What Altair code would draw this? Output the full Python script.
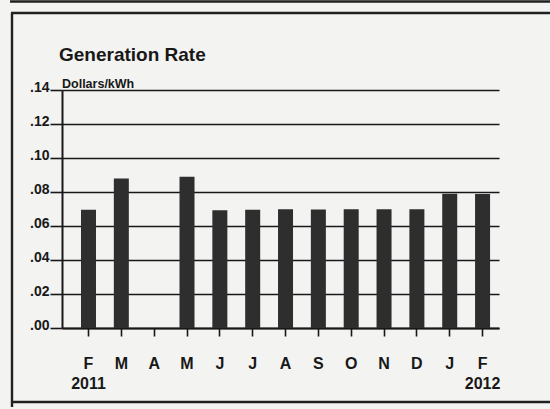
import altair as alt
import pandas as pd

# Monthly generation rate, Feb 2011 - Feb 2012 (April 2011 not reported)
months = ["2011-02", "2011-03", "2011-04", "2011-05", "2011-06", "2011-07", "2011-08",
          "2011-09", "2011-10", "2011-11", "2011-12", "2012-01", "2012-02"]
month_labels = ["F\n2011", "M", "A", "M", "J", "J", "A", "S", "O", "N", "D", "J", "F\n2012"]
rates = [0.0695, 0.088, None, 0.089, 0.0693, 0.0696, 0.0698, 0.0697,
         0.0698, 0.0698, 0.0699, 0.079, 0.0788]
y_ticks = [0.00, 0.02, 0.04, 0.06, 0.08, 0.10, 0.12, 0.14]
title_text = "Generation Rate"
unit_text = "Dollars/kWh"

df = pd.DataFrame({"month": months, "label": month_labels, "rate": rates})

FONT = "Liberation Sans, Arial, Helvetica, sans-serif"
INK = "#181818"
PAPER = "#f3f3f1"

W, H = 437, 238
PAD = {"left": 62, "top": 90, "right": 550 - 62 - W, "bottom": 409 - 90 - H}

x_scale = alt.Scale(domain=months, paddingInner=0.543, paddingOuter=0.425, align=0.68)
y_scale = alt.Scale(domain=[0, 0.14], nice=False, zero=True)

base = alt.Chart(df)

bars = base.mark_bar(color="#2e2e2e").encode(
    x=alt.X("month:N", scale=x_scale, sort=months,
            axis=alt.Axis(title=None, labels=False, ticks=True, tickSize=8,
                          tickWidth=1.6, tickColor=INK, domain=True,
                          domainColor=INK, domainWidth=2)),
    y=alt.Y("rate:Q", scale=y_scale,
            axis=alt.Axis(title=None, values=y_ticks,
                          labelExpr="substring(format(datum.value, '.2f'), 1)",
                          labelFont=FONT, labelFontSize=14, labelFontWeight="bold",
                          labelColor=INK, labelBaseline="alphabetic", labelOffset=1,
                          labelPadding=1, tickSize=12, tickWidth=1.6, tickColor=INK,
                          grid=True, gridColor=INK, gridWidth=1.6,
                          domain=True, domainColor=INK, domainWidth=2)),
)

month_text = base.mark_text(
    font=FONT, fontSize=16, fontWeight="bold", color=INK,
    baseline="alphabetic", align="center", lineBreak="\n", lineHeight=20,
).encode(
    x=alt.X("month:N", scale=x_scale, sort=months),
    y=alt.value(278.5),
    text="label:N",
)

one = alt.Chart(pd.DataFrame({"k": [0]}))

# Heading and unit line above the plot
heading = one.mark_text(
    text=title_text, font=FONT, fontSize=19, fontWeight="bold", color=INK,
    align="left", baseline="alphabetic",
).encode(x=alt.value(-3), y=alt.value(-29))
unit = one.mark_text(
    text=unit_text, font=FONT, fontSize=12.5, fontWeight="bold", color=INK,
    align="left", baseline="alphabetic",
).encode(x=alt.value(0), y=alt.value(-2.5))

# Panel frame lines around the graphic
frame_style = dict(color="#202020", strokeWidth=2.4)
left_edge = one.mark_rule(**frame_style).encode(
    x=alt.value(-50), y=alt.value(-77), y2=alt.value(317))
top_edge = one.mark_rule(**frame_style).encode(
    x=alt.value(-51), x2=alt.value(490), y=alt.value(-77))
bottom_edge = one.mark_rule(**frame_style).encode(
    x=alt.value(-51), x2=alt.value(490), y=alt.value(312))
upper_edge = one.mark_rule(**frame_style).encode(
    x=alt.value(-52), x2=alt.value(490), y=alt.value(-88.5))

chart = alt.layer(
    bars, month_text, heading, unit, left_edge, top_edge, bottom_edge, upper_edge
).properties(
    width=W,
    height=H,
    autosize=alt.AutoSizeParams(type="none"),
    padding=PAD,
    background=PAPER,
).configure_view(stroke=None)

chart.save("out.html", embed_options={"renderer": "svg", "actions": False})
